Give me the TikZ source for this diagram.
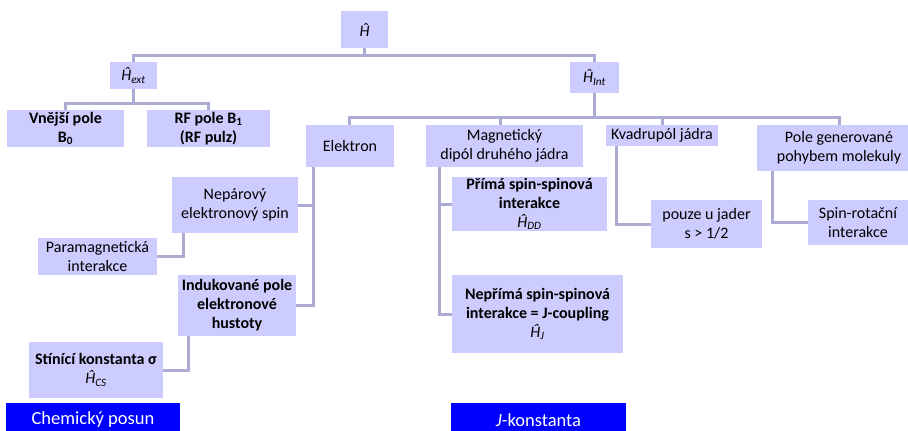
\documentclass[tikz,border=0pt]{standalone}
\usepackage{fontspec}
\setmainfont{Carlito}
\usetikzlibrary{positioning}
\definecolor{boxfill}{HTML}{CCCCFF}
\definecolor{linkcol}{HTML}{ABABD3}
\definecolor{tagblue}{HTML}{0000FF}
\newcommand{\hop}[1]{\textit{Ĥ}\textsubscript{\textit{#1}}}

\begin{document}
\begin{tikzpicture}[x=1pt, y=-1pt, font=\fontsize{16}{19}\selectfont,
		box/.style={fill=boxfill, inner sep=0pt, align=center},
		strong/.style={font=\fontsize{16}{19}\selectfont\bfseries},
		link/.style={draw=linkcol, line width=3pt},
		tag/.style={fill=tagblue, text=white, inner sep=0pt, font=\fontsize{18.5}{20}\selectfont}]
		\useasboundingbox (0,0) rectangle (908,431);
		\clip (0,0) rectangle (908,431);

		% top levels
		\node (H) [box, minimum width=47pt, minimum height=37pt] at (364.5, 29.5) {\textit{Ĥ}};
		\node (hext) [box, minimum width=47pt, minimum height=27pt] at (133.5, 75.5) {\hop{ext}};
		\node (hint) [box, minimum width=49pt, minimum height=31pt] at (594.5, 77.5) {\hop{Int}};

		\node (vnejsi) [box, strong, minimum width=117pt, minimum height=37pt] at (65.5, 128.5) {Vnější pole\\B\textsubscript{0}};
		\node (rf) [box, strong, minimum width=123pt, minimum height=37pt] at (208.5, 128.5) {RF pole B\textsubscript{1}\\(RF pulz)};

		\node (elektron) [box, minimum width=88pt, minimum height=42pt] at (350, 146) {Elektron};
		\node (magn) [box, minimum width=157pt, minimum height=42pt] at (504.5, 146) {Magnetický\\dipól druhého jádra};
		\node (kvadr) [box, minimum width=112pt, minimum height=21pt] at (662, 135.5) {Kvadrupól jádra};
		\node (pole) [box, minimum width=164pt, minimum height=46pt] at (839, 148) {Pole generované\\pohybem molekuly};

		% electron side
		\node (nepar) [box, minimum width=126pt, minimum height=56pt] at (235, 205) {Nepárový\\elektronový spin};
		\node (param) [box, minimum width=119pt, minimum height=37pt] at (97.5, 256.5) {Paramagnetická\\interakce};
		\node (indu) [box, strong, minimum width=118pt, minimum height=61pt] at (237, 305.5) {Indukované pole\\elektronové\\hustoty};
		\node (stin) [box, minimum width=134pt, minimum height=56pt] at (96, 370) {\textbf{Stínící konstanta σ}\\\hop{CS}};

		% nuclear side
		\node (prima) [box, minimum width=155pt, minimum height=54pt] at (529.5, 204) {\textbf{Přímá spin-spinová}\\\textbf{interakce}\\\hop{DD}};
		\node (neprima) [box, minimum width=171pt, minimum height=78pt] at (537.5, 314) {\textbf{Nepřímá spin-spinová}\\\textbf{interakce = J-coupling}\\\hop{J}};
		\node (pouze) [box, minimum width=111pt, minimum height=48pt] at (706.5, 224) {pouze u jader\\s > 1/2};
		\node (spinrot) [box, minimum width=100pt, minimum height=45pt] at (858, 222.5) {Spin-rotační\\interakce};

		\node (chem) [tag, minimum width=174pt, minimum height=34pt] at (93, 420) {Chemický posun};
		\node (jkonst) [tag, minimum width=175pt, minimum height=34pt] at (538.5, 420) {\textit{J}-konstanta};

		% connectors
		\draw [link] (H.south) -- ++(0, 8);
		\draw [link] (hext.north) -- ++(0, -6) -| (hint.north);
		\draw [link] (hext.south) -- ++(0, 15);
		\draw [link] (vnejsi.north) -- ++(0, -6) -| (rf.north);
		\draw [link] (hint.south) -- ++(0, 25);
		\draw [link] ([xshift=-1pt]elektron.north) -- ++(0, -7) -| (pole.north);
		\draw [link] ([xshift=-4pt]magn.north) -- ++(0, -7);
		\draw [link] (kvadr.north) -- ++(0, -7);

		\draw [link] ([xshift=8pt]elektron.south west) |- (nepar.east);
		\draw [link] ([xshift=8pt]elektron.south west) |- (indu.east);
		\draw [link] ([xshift=12pt]nepar.south west) |- (param.east);
		\draw [link] ([xshift=11pt]indu.south west) |- (stin.east);

		\draw [link] ([xshift=14pt]magn.south west) |- (prima.west);
		\draw [link] ([xshift=14pt]magn.south west) |- (neprima.west);
		\draw [link] ([xshift=11pt]kvadr.south west) |- (pouze.west);
		\draw [link] ([xshift=16pt]pole.south west) |- (spinrot.west);
	\end{tikzpicture}
\end{document}
